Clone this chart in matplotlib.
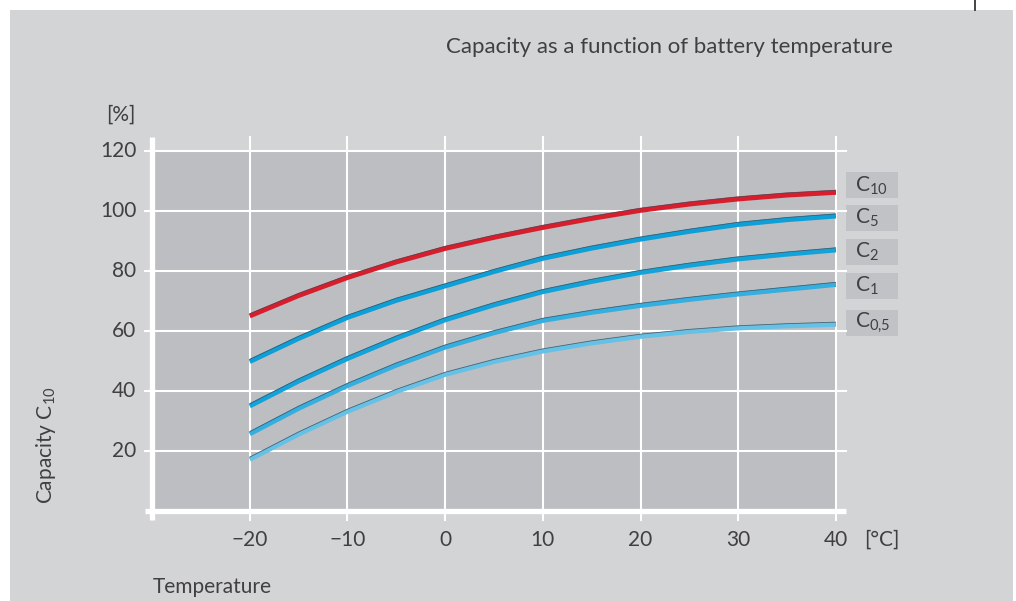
import numpy as np
import matplotlib
matplotlib.use("Agg")
import matplotlib.pyplot as plt
from matplotlib.patches import Rectangle

# temperature in degC
temps = [-20, -15, -10, -5, 0, 5, 10, 15, 20, 25, 30, 35, 40]

# capacity in % of C10 for each discharge rate
cap_c10 = [65, 71.8, 77.8, 83, 87.5, 91.2, 94.5, 97.5, 100.2, 102.3, 104, 105.3, 106.2]
cap_c5 = [49.8, 57.5, 64.5, 70.2, 75, 79.8, 84.2, 87.6, 90.6, 93.2, 95.5, 97.1, 98.3]
cap_c2 = [35, 43.3, 50.8, 57.6, 63.7, 68.7, 73.1, 76.5, 79.5, 81.9, 84, 85.6, 87]
cap_c1 = [25.7, 34.2, 41.8, 48.6, 54.6, 59.4, 63.5, 66.2, 68.5, 70.5, 72.3, 73.9, 75.5]
cap_c05 = [17.2, 25.6, 33.2, 39.8, 45.5, 49.8, 53.3, 56, 58.2, 59.8, 61, 61.7, 62.2]

series = [cap_c10, cap_c5, cap_c2, cap_c1, cap_c05]
labels = ["$\\mathregular{C_{10}}$", "$\\mathregular{C_{5}}$", "$\\mathregular{C_{2}}$",
          "$\\mathregular{C_{1}}$", "$\\mathregular{C_{0{,}5}}$"]
colors = ["#d81e2c", "#0d9fd8", "#12a3da", "#35afe0", "#66c1e7"]
label_y = [108.5, 97.7, 86.3, 75.0, 62.7]

x_ticks = [-20, -10, 0, 10, 20, 30, 40]
y_ticks = [20, 40, 60, 80, 100, 120]

plt.rcParams["font.family"] = ["Lato", "DejaVu Sans"]
plt.rcParams["mathtext.fontset"] = "custom"
plt.rcParams["mathtext.rm"] = "Lato"
TXT = "#404040"
PANEL = "#d3d4d6"
PLOT = "#bdbec2"
FS = 15

W, H = 1016, 601
fig = plt.figure(figsize=(W / 100, H / 100), dpi=100, facecolor="white")

# grey panel and the small mark on top
fig.patches.append(Rectangle((10 / W, 0), (1013 - 10) / W, (H - 10) / H,
                             transform=fig.transFigure, facecolor=PANEL,
                             edgecolor="none", zorder=-5))
fig.add_artist(plt.Line2D([975 / W, 975 / W], [1, (H - 10) / H],
                          transform=fig.transFigure, color="#444444", lw=1.4))

ax = fig.add_axes([152 / W, (H - 511) / H, 684 / W, 360 / H])
ax.set_zorder(2)
ax.set_xlim(-30, 40)
ax.set_ylim(0, 120)
ax.set_facecolor(PLOT)
for s in ax.spines.values():
    s.set_visible(False)
ax.set_xticks([])
ax.set_yticks([])

# white grid, running a little past the plot area
for xv in x_ticks:
    ax.plot([xv, xv], [-3, 124.7], color="white", lw=1.5, clip_on=False, zorder=1)
for yv in y_ticks:
    ax.plot([-30.7, 41], [yv, yv], color="white", lw=1.5, clip_on=False, zorder=1)
ax.plot([-30, -30], [-3, 124.7], color="white", lw=3.8, clip_on=False, zorder=1,
        solid_capstyle="butt")
ax.plot([-30.7, 41], [0, 0], color="white", lw=3.8, clip_on=False, zorder=1,
        solid_capstyle="butt")

# curves: coloured band with a thin dark edge on top
for vals, col in zip(series, colors):
    ax.plot(temps, vals, color=col, lw=3.5, zorder=3, solid_capstyle="butt")
    ax.plot(temps, np.array(vals) + 0.75, color="#3a4650", lw=0.6, zorder=4,
            alpha=0.75, solid_capstyle="butt")

# tick labels
for xv in x_ticks:
    lab = f"\u2212{abs(xv)}" if xv < 0 else str(xv)
    ax.text(xv, -9.7, lab, ha="center", va="center", fontsize=FS, color=TXT,
            clip_on=False)
for yv in y_ticks:
    ax.text(-31.6, yv, str(yv), ha="right", va="center", fontsize=FS, color=TXT,
            clip_on=False)

# rate labels in grey boxes
for lab, yv in zip(labels, label_y):
    yc = (H - (511 - yv * 3)) / H
    fig.patches.append(Rectangle((846 / W, yc - 13 / H), 52 / W, 26 / H,
                                 transform=fig.transFigure, facecolor="#c1c2c5",
                                 edgecolor="none", zorder=1))
    fig.text(855 / W, yc, lab, ha="left", va="center", fontsize=FS, color=TXT)

fig.text(893 / W, (H - 47) / H, "Capacity as a function of battery temperature",
         ha="right", va="center", fontsize=16, color=TXT)
fig.text(121 / W, (H - 115) / H, "[%]", ha="center", va="center", fontsize=FS,
         color=TXT)
fig.text(882 / W, (H - 540) / H, "[°C]", ha="center", va="center", fontsize=FS,
         color=TXT)
fig.text(153 / W, (H - 587) / H, "Temperature", ha="left", va="center",
         fontsize=FS, color=TXT)
fig.text(46 / W, (H - 445) / H, "Capacity $\\mathregular{C_{10}}$", ha="center",
         va="center", rotation=90, fontsize=FS, color=TXT)

fig.savefig("out.png", dpi=100, facecolor="white")
